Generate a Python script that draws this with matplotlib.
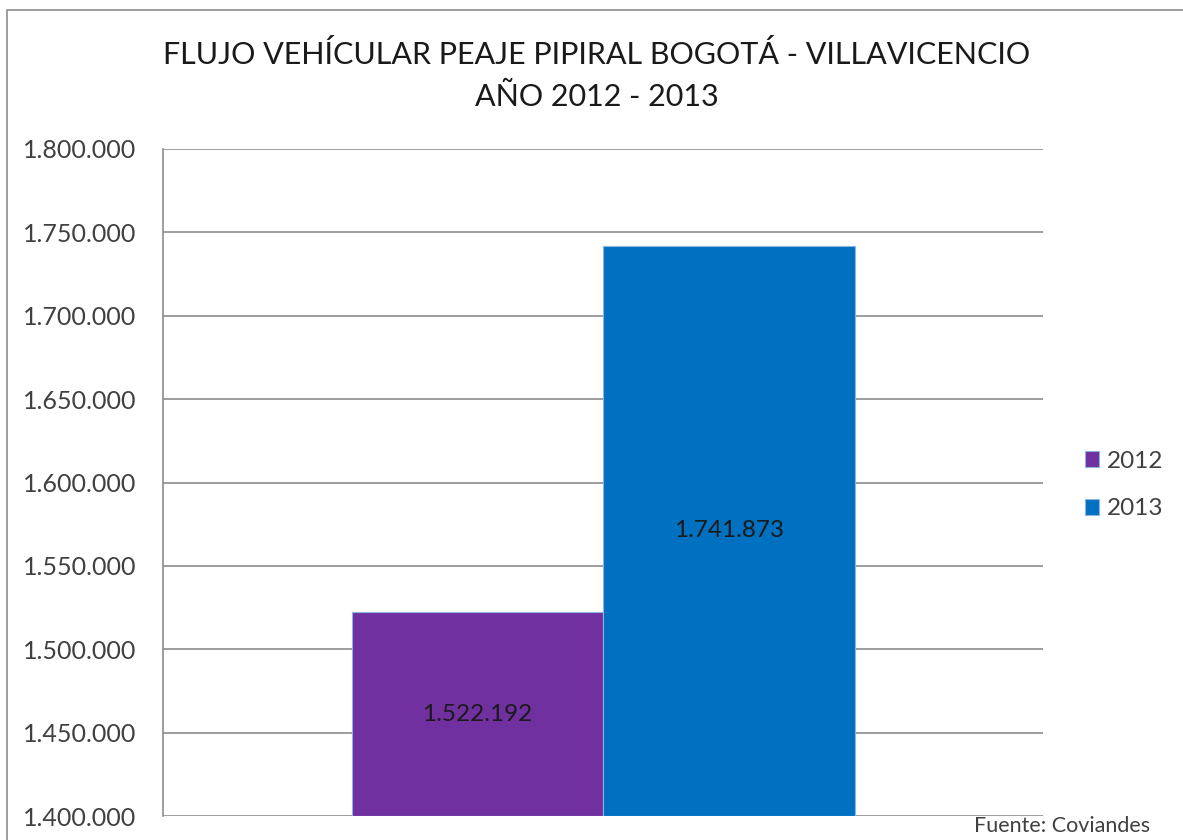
import matplotlib
matplotlib.use("Agg")
import matplotlib.pyplot as plt
from matplotlib.patches import Rectangle

series = ["2012", "2013"]
values = [1522192, 1741873]
colors = ["#7030A0", "#0070C0"]
yticks = [1400000, 1450000, 1500000, 1550000, 1600000, 1650000, 1700000, 1750000, 1800000]

def fmt(v):
    return f"{v:,}".replace(",", ".")

plt.rcParams['font.family'] = ['Lato', 'DejaVu Sans']

W, H = 1183, 840
fig = plt.figure(figsize=(W/100, H/100), dpi=100)
ax = fig.add_axes([163/W, 1-816/H, 880/W, (816-149)/H])

bw = 251.5/880
offsets = [-bw/2, bw/2]
for s, v, c, o in zip(series, values, colors, offsets):
    ax.bar(o, v - yticks[0], bottom=yticks[0], width=bw, color=c, edgecolor="#8DB4E2",
           linewidth=0.8, label=s, zorder=3)
    ax.text(o, (yticks[0] + v)/2, fmt(v), ha="center", va="center", fontsize=17.5,
            color="#1a1a1a", zorder=4)

ax.set_xlim(-0.5, 0.5)
ax.set_ylim(yticks[0], yticks[-1])
ax.set_yticks(yticks)
ax.set_yticklabels([fmt(t) for t in yticks], fontsize=18, color="#404040")
ax.set_xticks([])
ax.tick_params(axis="y", length=0, pad=19)
ax.grid(axis="y", color="#8c8c8c", linewidth=1.2, zorder=1)
for sp in ["top", "right", "bottom"]:
    ax.spines[sp].set_visible(False)
ax.spines["left"].set_color("#8c8c8c")
ax.spines["left"].set_linewidth(1.2)

fig.text(597/W, 1-55/H, "FLUJO VEHÍCULAR PEAJE PIPIRAL BOGOTÁ - VILLAVICENCIO",
         ha="center", va="center", fontsize=22, color="#1a1a1a")
fig.text(597/W, 1-97/H, "AÑO 2012 - 2013", ha="center", va="center",
         fontsize=22, color="#1a1a1a")

leg = fig.legend(loc="center left", bbox_to_anchor=(1063/W, 1-485/H), frameon=False,
                 fontsize=17.5, handlelength=0.6, handleheight=0.6, handletextpad=0.3,
                 labelspacing=1.1, labelcolor="#404040")

fig.text(1150/W, 1-826/H, "Fuente: Coviandes", ha="right", va="center",
         fontsize=15.5, color="#404040")

fig.patches.append(Rectangle((7/W, -0.1), 1.2, 1.1 - 10/H,
                             transform=fig.transFigure, fill=False,
                             edgecolor="#8c8c8c", linewidth=1.2))

fig.savefig("out.png", dpi=100)
